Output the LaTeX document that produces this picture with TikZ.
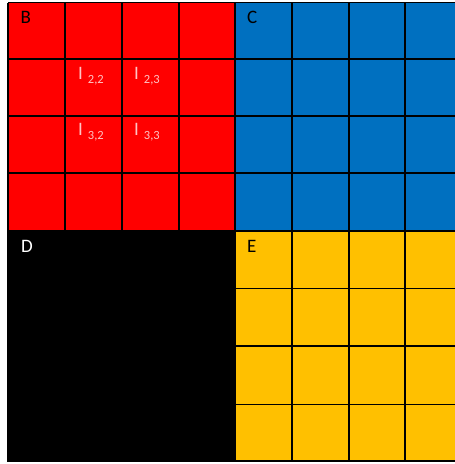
\documentclass[tikz,border=0pt]{standalone}
\usepackage{fontspec}
\setmainfont{Carlito}
\definecolor{redb}{HTML}{FF0000}
\definecolor{blueb}{HTML}{0070C0}
\definecolor{yellowb}{HTML}{FFC000}
\definecolor{pinkt}{HTML}{FFC4C4}
\tikzset{
  gridline/.style={line width=1.3pt, black},
  blocklabel/.style={anchor=base west, inner sep=0pt, font=\fontsize{19}{19}\selectfont},
  ilabel/.style={anchor=base west, inner sep=0pt, text=pinkt, font=\fontsize{19}{19}\selectfont}
}
\newcommand{\isub}[2]{I\hspace{5pt}\raisebox{-4pt}{\fontsize{12.5}{12.5}\selectfont #1,#2}}
\begin{document}
\begin{tikzpicture}[x=1pt,y=-1pt]
\useasboundingbox (0,0) rectangle (455,464);
\fill[white] (0,0) rectangle (455,464);
\begin{scope}
\clip (0,0) rectangle (455,464);
\fill[redb] (8,2.5) rectangle (235,231);
\fill[blueb] (235,2.5) rectangle (480,231);
\fill[black] (8,231) rectangle (235,461);
\fill[yellowb] (235,231) rectangle (480,461);
% red block grid
\foreach \x in {8,65,122,179,235} \draw[gridline] (\x,2.5) -- (\x,231);
\foreach \y in {2.5,59,116,173,231} \draw[gridline] (8,\y) -- (235,\y);
% blue block grid
\foreach \x in {292,349,405,462} \draw[gridline] (\x,2.5) -- (\x,231);
\foreach \y in {2.5,59,116,173} \draw[gridline] (235,\y) -- (480,\y);
\draw[gridline] (235,231) -- (480,231);
% black block border
\draw[gridline] (8,231) -- (8,461) -- (235,461);
% yellow block grid
\foreach \x in {235,292,349,405,462} \draw[gridline] (\x,231) -- (\x,461);
\foreach \y in {288.5,346,404.5,461} \draw[gridline] (235,\y) -- (480,\y);
\end{scope}
\node[blocklabel] (B) at (20.5,23.5) {B};
\node[blocklabel] (C) at (247,23.5) {C};
\node[blocklabel, text=white] (D) at (21,252) {D};
\node[blocklabel] (E) at (247,252) {E};
\node[ilabel] (i22) at (78,79) {\isub{2}{2}};
\node[ilabel] (i23) at (134,79) {\isub{2}{3}};
\node[ilabel] (i32) at (78,135) {\isub{3}{2}};
\node[ilabel] (i33) at (134,135) {\isub{3}{3}};
\end{tikzpicture}
\end{document}
